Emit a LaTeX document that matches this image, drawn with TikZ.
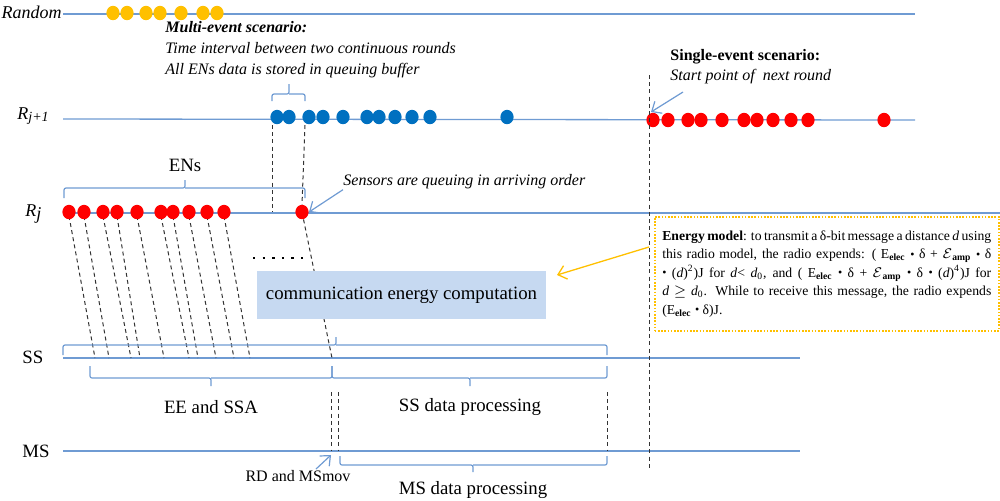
\documentclass[tikz,border=0pt]{standalone}
\usepackage{fontspec}
\setmainfont{Liberation Serif}
\usetikzlibrary{shapes.geometric,arrows.meta}
\definecolor{lineblue}{HTML}{6F9BD3}
\definecolor{dotyellow}{HTML}{FFC000}
\definecolor{dotblue}{HTML}{0070C0}
\definecolor{dotred}{HTML}{FF0000}
\definecolor{boxblue}{HTML}{C6D9F1}
\newcommand{\Eelec}{E\textsubscript{\textbf{elec}}}
\newcommand{\Eamp}{$\mathcal{E}$\textsubscript{\textbf{amp}}}
\newcommand{\bul}{\raisebox{0.1ex}{\fontsize{6}{6}\selectfont •}}
\newcommand{\tbrace}[6]{\draw[brk] (#1,#4) -- (#1,#5) -- (#3,#5) -- (#3,#6) (#3,#5) -- (#2,#5) -- (#2,#4);}
\tikzset{
  tl/.style={draw=lineblue, line width=0.65pt},
  dashv/.style={draw=black!80, line width=0.5pt, dash pattern=on 2pt off 1.6pt},
  dotbase/.style={ellipse, inner sep=0pt, minimum width=6.6pt, minimum height=7.2pt},
  ydot/.style={dotbase, fill=dotyellow},
  bdot/.style={dotbase, fill=dotblue},
  rdot/.style={dotbase, fill=dotred},
  brk/.style={draw=lineblue, line width=0.6pt, rounded corners=1pt},
  lbl/.style={font=\fontsize{9.4}{11}\selectfont, inner sep=0pt},
  itl/.style={font=\fontsize{8}{10.5}\selectfont\itshape, inner sep=0pt},
  parr/.style={draw=lineblue, line width=0.6pt, -{Straight Barb[length=4pt,width=7pt]}},
  yarr/.style={draw=dotyellow, line width=0.65pt, -{Straight Barb[length=4pt,width=7pt]}},
}
\begin{document}
\begin{tikzpicture}[x=0.5pt,y=-0.5pt]
\useasboundingbox (0,0) rectangle (1000,500);

% labels
\node[itl, font=\fontsize{9}{11}\selectfont\itshape, anchor=east] (lrand) at (62,12) {Random};
\node[itl, font=\fontsize{9}{11}\selectfont\itshape, anchor=west] (lrj1) at (17,116) {R\raisebox{-0.25ex}{\fontsize{7}{8}\selectfont j+1}};
\node[itl, font=\fontsize{9}{11}\selectfont\itshape, anchor=west] (lrj) at (25,214) {R\raisebox{-0.3ex}{j}};
\node[lbl, anchor=west] (lss) at (22,357) {SS};
\node[lbl, anchor=west] (lms) at (22,451) {MS};

% timelines
\coordinate (rands) at (63,14); \coordinate (rande) at (915,14);
\coordinate (rj1s) at (63,119); \coordinate (rj1e) at (915,120);
\coordinate (rjs) at (63,213); \coordinate (rje) at (1000,213);
\coordinate (sss) at (63,358); \coordinate (sse) at (800,358);
\coordinate (mss) at (63,451); \coordinate (mse) at (800,451);
\draw[tl] (rands) -- (rande);
\draw[tl] (rj1s) -- (rj1e);
\draw[tl] (rjs) -- (rje);
\draw[tl] (sss) -- (sse);
\draw[tl] (mss) -- (mse);

% texts
\node[itl, anchor=north west, align=left] (multi) at (165,21) {\textbf{Multi-event scenario}\textbf{:}\\Time interval between two continuous rounds\\All ENs data is stored in queuing buffer};
\node[inner sep=0pt, anchor=north west, align=left, font=\fontsize{8}{10}\selectfont] (single) at (670,49) {\textbf{Single-event scenario:}\\\textit{Start point of~ next round}};
\node[lbl, anchor=south] (ens) at (185,172) {ENs};
\node[itl, anchor=west] (sens) at (343,182) {Sensors are queuing in arriving order};

% dots
\foreach \x [count=\i] in {113,127,146,160,181,203,217}
  \node[ydot] (yd\i) at (\x,13) {};
\foreach \x [count=\i] in {277,289,309,323,343,367,379,395,412,430,507}
  \node[bdot] (bd\i) at (\x,117) {};
\foreach \x [count=\i] in {653,668,688,701,722,744,757,773,791,808,884}
  \node[rdot] (rr\i) at (\x,120) {};

% Rj dots and dashed links to SS
\foreach \a/\b [count=\i] in {69/95,84/109,103/131,117/140,137/164,161/189,173/198,189/216,207/234,224/250} {
  \coordinate (ss\i) at (\b,358);
  \draw[dashv] (\a,216) -- (ss\i);
  \node[rdot] (rj\i) at (\a,212) {};
}
\node[rdot] (rjq) at (302,212) {};

% dashed verticals
\coordinate (qa) at (272,125); \coordinate (qb) at (272,212);
\coordinate (qc) at (305,125);
\coordinate (qend) at (332,358);
\draw[dashv] (qa) -- (qb);
\draw[dashv] (qc) -- (rjq.north);
\draw[dashv] (rjq) -- (qend);
\coordinate (d1a) at (331,392); \coordinate (d1b) at (331,451);
\coordinate (d2a) at (338,392); \coordinate (d2b) at (338,451);
\coordinate (d3a) at (607,392); \coordinate (d3b) at (607,451);
\draw[dashv] (d1a) -- (d1b);
\draw[dashv] (d2a) -- (d2b);
\draw[dashv] (d3a) -- (d3b);
\coordinate (lva) at (649,75); \coordinate (lvb) at (649,470);
\draw[dashv] (lva) -- (lvb);

% dotted row
\coordinate (dra) at (253,258); \coordinate (drb) at (306,258);
\draw[line width=1.2pt, dash pattern=on 1.2pt off 3.6pt] (dra) -- (drb);

% braces
\tbrace{272}{305}{289}{101}{94}{84}
\tbrace{64}{305}{185}{198}{188}{180}
\tbrace{63}{607}{336}{355}{345}{337}
\tbrace{90}{332}{211}{366}{378}{386}
\tbrace{332}{607}{470}{366}{378}{386}
\tbrace{340}{607}{473}{456}{465}{472}

% communication box
\node[fill=boxblue, minimum width=144.5pt, minimum height=24pt, lbl] (comm) at (401.5,295) {communication energy computation};

% energy model box
\node[draw=dotyellow, line width=0.8pt, dash pattern=on 0.8pt off 0.8pt, anchor=north west, minimum width=172pt, minimum height=57pt, inner sep=0pt, font=\fontsize{6.85}{9.25}\selectfont] (emodel) at (654,216) {%
\begin{minipage}{164.5pt}\setlength{\parindent}{0pt}%
\makebox[\linewidth][s]{\textbf{Energy model}: to transmit a δ-bit message a distance \textit{d} using}\\
\makebox[\linewidth][s]{this radio model, the radio expends: ( \Eelec\ \bul\ δ + \Eamp\ \bul\ δ}\\
\makebox[\linewidth][s]{\bul\ (\textit{d})\textsuperscript{2})J for \textit{d}< \textit{d}\textsubscript{0}, and ( \Eelec\ \bul\ δ + \Eamp\ \bul\ δ \bul\ (\textit{d})\textsuperscript{4})J for}\\
\makebox[\linewidth][s]{\textit{d} $\geq$ \textit{d}\textsubscript{0}. While to receive this message, the radio expends}\\
(\Eelec\ \bul\ δ)J.
\end{minipage}};

% lower labels
\node[lbl] (ee) at (211,407) {EE and SSA};
\node[lbl] (ssdp) at (470,407) {SS data processing};
\node[lbl, font=\fontsize{8}{10}\selectfont] (rd) at (298,476) {RD and MSmov};
\node[lbl] (msdp) at (473,490) {MS data processing};

% arrows
\coordinate (sta) at (683,92); \coordinate (stb) at (651,112);
\draw[parr] (sta) -- (stb);
\draw[parr] (sens.south west) -- (rjq.east);
\coordinate (rda) at (316,469); \coordinate (rdb) at (331,455);
\draw[parr] (rda) -- (rdb);
\coordinate (yatail) at (649,247); \coordinate (yahead) at (557,275);
\draw[yarr] (yatail) -- (yahead);
\end{tikzpicture}
\end{document}
